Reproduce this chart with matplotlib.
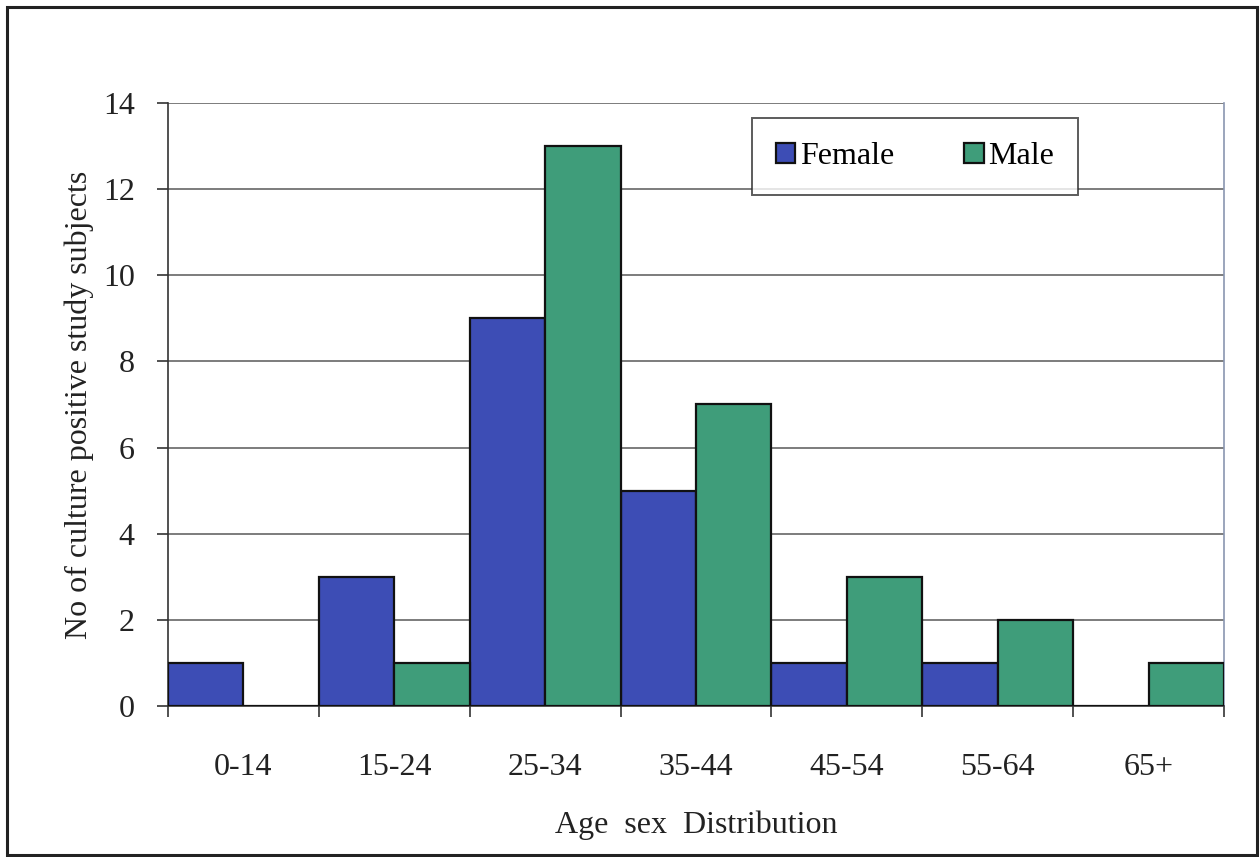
import numpy as np
import matplotlib
matplotlib.use("Agg")
import matplotlib.pyplot as plt
from matplotlib.patches import Rectangle

# data
age_groups = ["0-14", "15-24", "25-34", "35-44", "45-54", "55-64", "65+"]
female = [1, 3, 9, 5, 1, 1, 0]
male = [0, 1, 13, 7, 3, 2, 1]
y_ticks = [0, 2, 4, 6, 8, 10, 12, 14]

plt.rcParams["font.family"] = ["Liberation Serif", "DejaVu Serif"]

fig = plt.figure(figsize=(12.6, 8.57), dpi=100)
ax = fig.add_axes([168 / 1260, 1 - 706 / 857, (1224 - 168) / 1260, (706 - 103) / 857])

x = np.arange(len(age_groups))
w = 0.5
ax.bar(x - w / 2, female, width=w, color="#3d4db5", edgecolor="#111111",
       linewidth=1.6, label="Female", zorder=3)
ax.bar(x + w / 2, male, width=w, color="#3f9d7a", edgecolor="#111111",
       linewidth=1.6, label="Male", zorder=3)

ax.set_xlim(-0.5, len(age_groups) - 0.5)
ax.set_ylim(0, 14)
ax.set_yticks(y_ticks)
ax.set_yticklabels([str(t) for t in y_ticks], fontsize=23, color="#222222")
ax.yaxis.grid(True, color="#666666", linewidth=1.2, zorder=0)

# category boundaries carry the x ticks, labels sit at centres
ax.set_xticks(np.arange(len(age_groups) + 1) - 0.5)
ax.set_xticklabels([])
ax.set_xticks(x, minor=True)
ax.set_xticklabels(age_groups, minor=True, fontsize=23, color="#222222")
ax.tick_params(axis="x", which="minor", length=0, pad=34)
ax.tick_params(axis="x", which="major", length=8, width=1.2, color="#333333", direction="out")
ax.tick_params(axis="y", length=8, width=1.2, color="#333333", pad=16)

ax.spines["top"].set_visible(False)
ax.spines["right"].set_color("#8a96b0")
ax.spines["left"].set_color("#333333")
ax.spines["bottom"].set_color("#333333")
for s in ax.spines.values():
    s.set_linewidth(1.2)

ax.set_ylabel("No of culture positive study subjects", fontsize=23, color="#222222", labelpad=6)
ax.set_xlabel("Age  sex  Distribution", fontsize=23, color="#222222", labelpad=20)

leg = ax.legend(loc="upper left", bbox_to_anchor=((752 - 168) / 1056, 1 - (118 - 103) / 603),
                ncol=2, fontsize=23, frameon=True, fancybox=False, edgecolor="#333333",
                handlelength=0.6, handleheight=0.6, handletextpad=0.15, columnspacing=2.2,
                borderpad=0.75, borderaxespad=0)
leg.get_frame().set_linewidth(1.4)
for h in leg.legend_handles:
    h.set_linewidth(1.6)

# outer frame around the whole figure
fig.patches.append(Rectangle((7 / 1260, 2 / 857), 1250 / 1260, 848 / 857,
                             transform=fig.transFigure, fill=False,
                             edgecolor="#222222", linewidth=2.2))

fig.savefig("out.png", dpi=100)
